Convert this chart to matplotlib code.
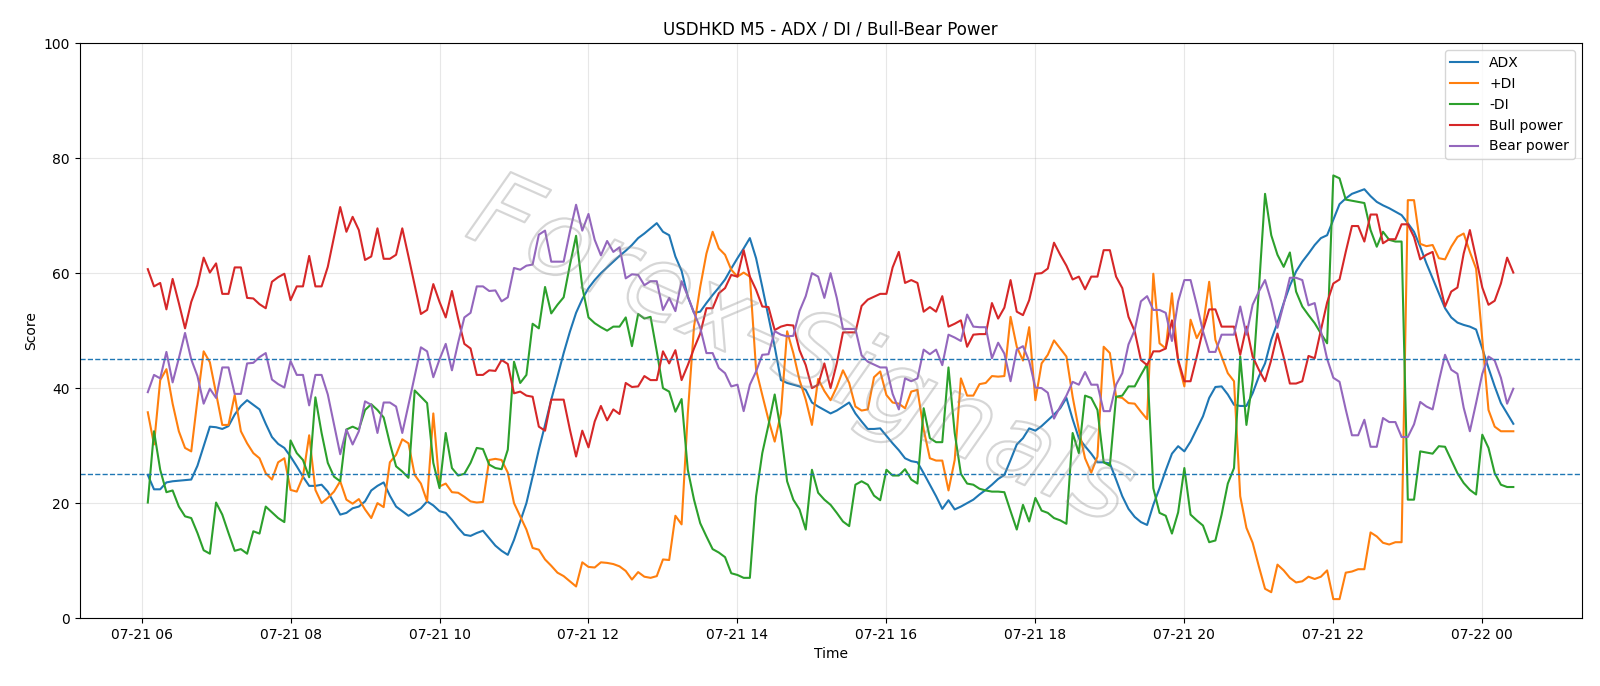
import matplotlib
matplotlib.use("Agg")
import matplotlib.pyplot as plt
import matplotlib.patheffects as pe
import pandas as pd

# M5 bars, 07-21 06:05 -> 07-22 00:25
times = pd.date_range("2024-07-21 06:05", periods=221, freq="5min")

adx = [24.9, 22.4, 22.4, 23.6, 23.8, 23.9, 24.0, 24.1, 26.5, 29.9, 33.3, 33.2, 32.9, 33.4, 35.4, 36.9, 37.9, 37.1, 36.3, 33.8,
       31.5, 30.3, 29.6, 28.1, 26.4, 24.6, 23.0, 23.0, 23.2, 22.0, 20.0, 18.0, 18.3, 19.1, 19.4, 20.3, 22.2, 23.0, 23.6, 21.3,
       19.4, 18.6, 17.8, 18.4, 19.1, 20.3, 19.6, 18.6, 18.3, 17.1, 15.7, 14.5, 14.3, 14.8, 15.2, 13.9, 12.6, 11.7, 11.0, 13.6,
       16.8, 20.0, 24.6, 29.3, 33.6, 38.0, 42.0, 46.1, 49.8, 53.1, 55.5, 57.4, 58.8, 60.0, 61.0, 62.0, 63.0, 63.9, 64.9, 66.1,
       66.9, 67.8, 68.7, 67.2, 66.6, 62.9, 60.4, 55.9, 53.1, 53.3, 54.8, 56.2, 57.5, 58.9, 60.8, 62.6, 64.3, 66.1, 62.6, 57.6,
       52.4, 47.2, 41.4, 40.9, 40.6, 40.3, 39.7, 37.5, 36.8, 36.2, 35.6, 36.1, 36.8, 37.5, 35.6, 34.2, 32.9, 32.9, 33.0, 31.7,
       30.4, 29.2, 27.8, 27.3, 27.1, 25.2, 23.2, 21.2, 19.0, 20.5, 18.9, 19.4, 20.0, 20.6, 21.5, 22.3, 23.2, 24.2, 24.9, 27.5,
       30.2, 31.3, 33.0, 32.6, 33.4, 34.4, 35.4, 36.5, 38.3, 34.6, 31.3, 29.9, 28.6, 27.1, 27.1, 26.9, 24.1, 21.2, 19.0, 17.6,
       16.7, 16.2, 19.7, 22.6, 25.7, 28.6, 29.9, 29.0, 30.7, 32.9, 35.1, 38.3, 40.2, 40.3, 38.9, 37.1, 36.9, 36.9, 39.1, 42.0,
       44.3, 48.4, 51.4, 54.8, 57.8, 60.3, 62.0, 63.4, 64.9, 66.1, 66.6, 69.3, 72.0, 73.0, 73.8, 74.2, 74.6, 73.4, 72.4, 71.8,
       71.3, 70.7, 70.1, 68.7, 67.2, 64.6, 61.7, 59.1, 56.5, 53.9, 52.3, 51.4, 51.0, 50.7, 50.2, 46.9, 43.5, 40.3, 37.4, 35.6,
       33.8]

plus_di = [35.8, 30.2, 41.4, 43.3, 37.3, 32.5, 29.6, 29.0, 38.0, 46.4, 44.5, 39.1, 33.6, 33.6, 38.8, 32.5, 30.4, 28.7, 27.8, 25.2,
           24.1, 27.1, 27.8, 22.3, 22.0, 24.6, 31.8, 22.3, 20.0, 20.9, 22.0, 23.8, 20.6, 19.9, 20.7, 18.9, 17.4, 20.0, 19.3, 27.1,
           28.4, 31.1, 30.4, 24.9, 23.4, 20.3, 35.6, 22.9, 23.4, 21.9, 21.8, 21.1, 20.3, 20.1, 20.2, 27.5, 27.7, 27.5, 25.3, 20.0,
           17.7, 15.4, 12.2, 11.9, 10.2, 9.1, 7.9, 7.3, 6.4, 5.5, 9.7, 8.9, 8.8, 9.7, 9.6, 9.4, 9.0, 8.2, 6.7, 8.0,
           7.2, 7.0, 7.3, 10.2, 10.1, 17.8, 16.3, 35.6, 50.7, 57.6, 63.4, 67.2, 64.3, 63.2, 60.6, 59.4, 60.1, 59.4, 43.2, 38.8,
           34.5, 30.7, 35.6, 49.9, 46.1, 41.4, 38.0, 33.6, 41.6, 39.5, 37.9, 40.2, 43.1, 40.9, 36.8, 36.1, 36.3, 41.9, 42.9, 38.8,
           37.5, 37.3, 36.5, 39.4, 39.7, 32.8, 27.8, 27.4, 27.4, 22.2, 27.5, 41.7, 38.7, 38.7, 40.7, 40.9, 42.1, 42.0, 42.1, 52.4,
           47.2, 44.8, 50.6, 37.9, 44.3, 45.8, 48.3, 46.9, 45.5, 38.5, 32.8, 27.8, 25.3, 28.1, 47.2, 46.1, 38.5, 38.3, 37.4, 37.3,
           35.9, 34.6, 59.9, 47.8, 46.9, 56.5, 44.6, 40.3, 51.9, 48.7, 50.7, 58.5, 48.4, 45.5, 42.6, 41.2, 21.2, 15.7, 13.1, 9.0,
           5.1, 4.5, 9.3, 8.3, 7.0, 6.2, 6.4, 7.2, 6.8, 7.2, 8.3, 3.3, 3.3, 7.9, 8.1, 8.5, 8.5, 14.9, 14.2, 13.1,
           12.8, 13.2, 13.2, 72.7, 72.7, 65.1, 64.7, 64.9, 62.6, 62.4, 64.6, 66.3, 66.9, 63.7, 60.8, 48.4, 36.2, 33.3, 32.5, 32.5,
           32.5]

minus_di = [20.1, 32.5, 25.8, 21.9, 22.2, 19.4, 17.7, 17.4, 14.8, 11.8, 11.2, 20.1, 18.0, 14.8, 11.7, 12.0, 11.2, 15.1, 14.7, 19.4,
            18.4, 17.4, 16.7, 30.9, 28.7, 27.5, 24.5, 38.4, 32.2, 27.0, 24.6, 23.8, 32.8, 33.3, 32.8, 36.2, 37.2, 36.2, 34.9, 30.4,
            26.4, 25.5, 24.4, 39.6, 38.5, 37.4, 27.0, 22.6, 32.2, 26.1, 24.8, 25.1, 27.0, 29.6, 29.4, 26.7, 26.1, 25.9, 29.3, 44.6,
            40.9, 42.3, 51.2, 50.4, 57.6, 53.0, 54.5, 55.8, 61.4, 66.5, 57.6, 52.3, 51.3, 50.6, 50.0, 50.7, 50.7, 52.3, 47.3, 52.9,
            52.1, 52.4, 46.4, 40.0, 39.4, 35.9, 38.1, 25.8, 20.6, 16.5, 14.2, 12.0, 11.4, 10.6, 7.8, 7.5, 7.0, 7.0, 21.2, 28.7,
            33.6, 38.9, 32.5, 23.8, 20.6, 18.9, 15.4, 25.8, 21.8, 20.6, 19.7, 18.3, 16.8, 16.0, 23.2, 23.8, 23.2, 21.3, 20.5, 25.8,
            24.8, 24.8, 25.9, 24.1, 23.4, 36.5, 31.3, 30.6, 30.6, 43.6, 32.2, 25.1, 23.4, 23.2, 22.5, 22.2, 22.0, 22.0, 21.9, 18.6,
            15.4, 19.7, 16.8, 20.9, 18.7, 18.3, 17.4, 17.0, 16.4, 32.2, 28.7, 38.7, 38.3, 36.2, 27.1, 26.5, 38.5, 38.7, 40.3, 40.3,
            42.3, 44.2, 22.6, 18.3, 17.8, 14.7, 18.4, 26.1, 18.0, 17.0, 16.1, 13.2, 13.5, 18.0, 23.4, 26.1, 45.5, 33.6, 41.4, 57.1,
            73.8, 66.6, 63.2, 61.1, 63.6, 56.8, 54.2, 52.7, 51.3, 49.5, 47.8, 77.0, 76.5, 72.8, 72.6, 72.4, 72.2, 67.5, 64.6, 67.2,
            65.8, 65.5, 65.5, 20.6, 20.6, 29.0, 28.8, 28.6, 29.9, 29.8, 27.5, 25.2, 23.5, 22.3, 21.5, 31.9, 29.6, 25.2, 23.2, 22.8,
            22.8]

bull_power = [60.7, 57.7, 58.3, 53.7, 59.0, 54.8, 50.4, 55.0, 57.9, 62.7, 60.1, 61.7, 56.4, 56.4, 61.0, 61.0, 55.7, 55.6, 54.6, 53.9,
              58.5, 59.3, 59.9, 55.3, 57.7, 57.7, 63.0, 57.7, 57.7, 61.1, 66.3, 71.5, 67.2, 69.8, 67.5, 62.3, 62.9, 67.8, 62.5, 62.5,
              63.2, 67.8, 62.9, 57.9, 52.9, 53.6, 58.1, 55.0, 52.3, 56.9, 52.1, 47.7, 46.9, 42.3, 42.3, 43.1, 43.0, 44.9, 44.2, 39.1,
              39.4, 38.7, 38.5, 33.3, 32.6, 38.0, 38.0, 38.0, 32.8, 28.1, 32.6, 29.7, 34.2, 36.9, 34.4, 36.3, 35.5, 40.9, 40.2, 40.3,
              42.1, 41.4, 41.4, 46.4, 44.3, 46.6, 41.4, 44.0, 46.9, 49.5, 53.9, 53.9, 56.5, 57.4, 59.7, 59.4, 64.0, 59.4, 57.1, 54.2,
              54.1, 50.1, 50.7, 51.0, 50.9, 46.6, 44.0, 40.0, 40.6, 44.3, 40.0, 44.3, 49.7, 49.7, 49.7, 54.3, 55.4, 55.9, 56.4, 56.4,
              61.0, 63.7, 58.3, 58.8, 58.3, 53.3, 54.1, 53.3, 56.0, 50.7, 51.2, 51.8, 47.2, 49.3, 49.4, 49.4, 54.8, 52.1, 54.0, 58.8,
              53.3, 52.7, 55.3, 59.9, 60.0, 60.8, 65.3, 63.2, 61.3, 58.9, 59.4, 57.2, 59.4, 59.4, 64.0, 64.0, 59.4, 57.4, 52.4, 49.9,
              44.9, 44.0, 46.4, 46.4, 46.9, 51.8, 44.9, 41.2, 41.2, 45.5, 50.1, 53.7, 53.7, 50.7, 50.7, 50.7, 45.8, 50.7, 45.5, 43.2,
              41.2, 44.9, 49.5, 45.4, 40.8, 40.8, 41.2, 45.6, 45.2, 50.1, 54.9, 58.2, 58.9, 63.7, 68.2, 68.2, 65.5, 70.2, 70.2, 65.2,
              65.9, 65.9, 68.5, 68.5, 66.3, 62.4, 63.2, 63.7, 58.8, 54.2, 56.8, 57.5, 63.4, 67.5, 62.6, 57.5, 54.5, 55.2, 58.2, 62.7,
              60.1]

bear_power = [39.3, 42.3, 41.7, 46.3, 41.0, 45.2, 49.6, 45.0, 42.1, 37.3, 39.9, 38.3, 43.6, 43.6, 39.0, 39.0, 44.3, 44.4, 45.4, 46.1,
              41.5, 40.7, 40.1, 44.7, 42.3, 42.3, 37.0, 42.3, 42.3, 38.9, 33.7, 28.5, 32.8, 30.2, 32.5, 37.7, 37.1, 32.2, 37.5, 37.5,
              36.8, 32.2, 37.1, 42.1, 47.1, 46.4, 41.9, 45.0, 47.7, 43.1, 47.9, 52.3, 53.1, 57.7, 57.7, 56.9, 57.0, 55.1, 55.8, 60.9,
              60.6, 61.3, 61.5, 66.7, 67.4, 62.0, 62.0, 62.0, 67.2, 71.9, 67.4, 70.3, 65.8, 63.1, 65.6, 63.7, 64.5, 59.1, 59.8, 59.7,
              57.9, 58.6, 58.6, 53.6, 55.7, 53.4, 58.6, 56.0, 53.1, 50.5, 46.1, 46.1, 43.5, 42.6, 40.3, 40.6, 36.0, 40.6, 42.9, 45.8,
              45.9, 49.9, 49.3, 49.0, 49.1, 53.4, 56.0, 60.0, 59.4, 55.7, 60.0, 55.7, 50.3, 50.3, 50.3, 45.7, 44.6, 44.1, 43.6, 43.6,
              39.0, 36.3, 41.7, 41.2, 41.7, 46.7, 45.9, 46.7, 44.0, 49.3, 48.8, 48.2, 52.8, 50.7, 50.6, 50.6, 45.2, 47.9, 46.0, 41.2,
              46.7, 47.3, 44.7, 40.1, 40.0, 39.2, 34.7, 36.8, 38.7, 41.1, 40.6, 42.8, 40.6, 40.6, 36.0, 36.0, 40.6, 42.6, 47.6, 50.1,
              55.1, 56.0, 53.6, 53.6, 53.1, 48.2, 55.1, 58.8, 58.8, 54.5, 49.9, 46.3, 46.3, 49.3, 49.3, 49.3, 54.2, 49.3, 54.5, 56.8,
              58.8, 55.1, 50.5, 54.6, 59.2, 59.2, 58.8, 54.4, 54.8, 49.9, 45.1, 41.8, 41.1, 36.3, 31.8, 31.8, 34.5, 29.8, 29.8, 34.8,
              34.1, 34.1, 31.5, 31.5, 33.7, 37.6, 36.8, 36.3, 41.2, 45.8, 43.2, 42.5, 36.6, 32.5, 37.4, 42.5, 45.5, 44.8, 41.8, 37.3,
              39.9]

levels = [25, 45]

fig, ax = plt.subplots(figsize=(16, 6.86), dpi=100)

ax.plot(times, adx, label="ADX")
ax.plot(times, plus_di, label="+DI")
ax.plot(times, minus_di, label="-DI")
ax.plot(times, bull_power, label="Bull power")
ax.plot(times, bear_power, label="Bear power")

for lv in levels:
    ax.axhline(lv, linestyle="--", linewidth=1, color="tab:blue")

ax.set_ylim(0, 100)
ax.set_title("USDHKD M5 - ADX / DI / Bull-Bear Power")
ax.set_xlabel("Time")
ax.set_ylabel("Score")
ax.grid(True, alpha=0.3)
ax.legend(loc="upper right")

# watermark
ax.text(0.48, 0.46, "Forex-Signals", transform=ax.transAxes, fontsize=76,
        style="italic", rotation=-24, ha="center", va="center",
        color="none", zorder=5,
        path_effects=[pe.withStroke(linewidth=1.6, foreground=(0.55, 0.55, 0.55, 0.35))])

fig.subplots_adjust(left=0.0497, right=0.9885, top=0.937, bottom=0.099)
fig.savefig("out.png")
